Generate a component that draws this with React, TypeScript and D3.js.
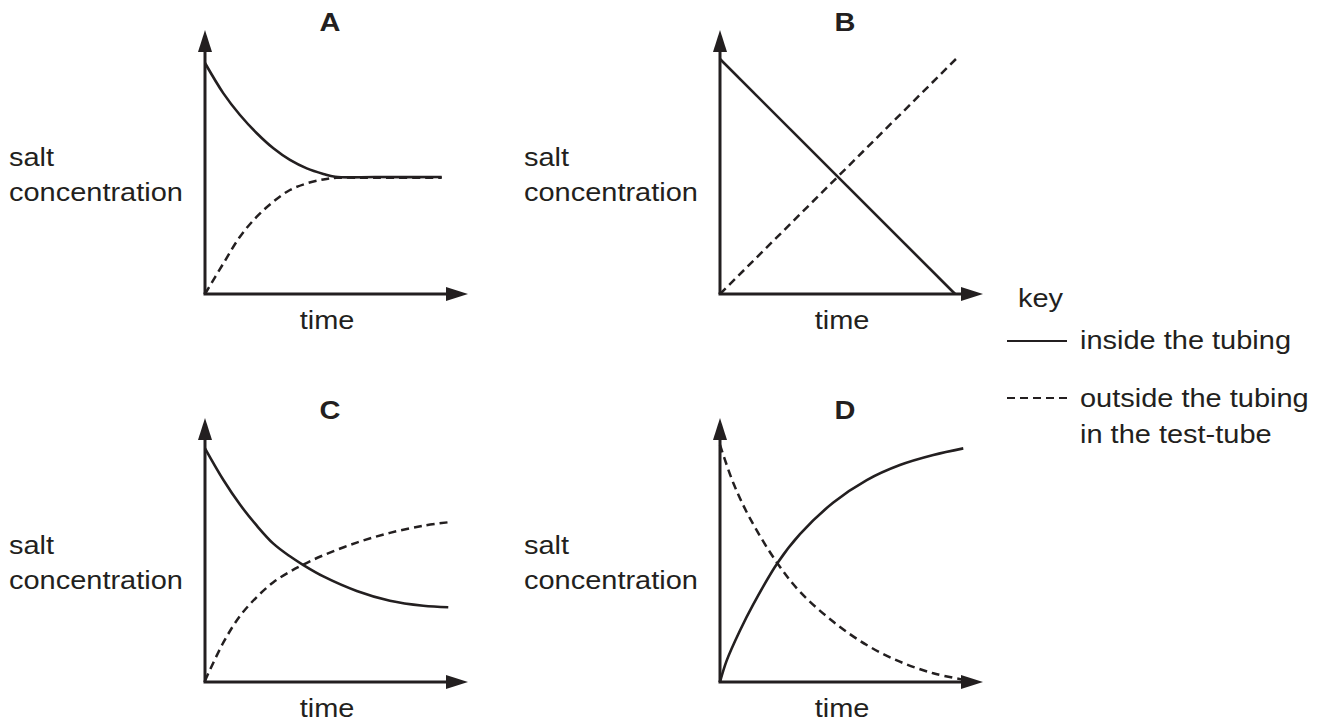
import React from "react";
import * as d3 from "d3";

// ---- data (time, salt concentration) in arbitrary units 0..10 ----
const panelLabels = ["A", "B", "C", "D"];

const aInside: [number, number][] = [
  [0, 8.75], [0.7, 7.6], [1.33, 6.78], [1.97, 6.09], [2.6, 5.52], [3.23, 5.08],
  [3.87, 4.76], [4.5, 4.55], [4.95, 4.44], [6.5, 4.43], [9.0, 4.43],
];
const aOutside: [number, number][] = [
  [0, 0], [0.7, 1.16], [1.33, 2.17], [1.97, 2.93], [2.6, 3.5], [3.23, 3.94],
  [3.87, 4.19], [4.5, 4.34], [5.0, 4.4], [6.5, 4.4], [9.0, 4.4],
];
const bInside: [number, number][] = [[0, 8.9], [8.94, 0]];
const bOutside: [number, number][] = [[0, 0], [9.01, 8.94]];
const cInside: [number, number][] = [
  [0, 8.85], [0.7, 7.65], [1.33, 6.72], [1.97, 5.92], [2.6, 5.24], [3.2, 4.78],
  [3.74, 4.43], [4.5, 4.0], [5.77, 3.45], [7.03, 3.08], [8.3, 2.89], [9.25, 2.83],
];
const cOutside: [number, number][] = [
  [0, 0.05], [0.7, 1.5], [1.33, 2.5], [1.97, 3.22], [2.6, 3.78], [3.2, 4.16],
  [3.74, 4.45], [4.5, 4.8], [5.77, 5.28], [7.03, 5.65], [8.3, 5.92], [9.25, 6.05],
];
const dInside: [number, number][] = [
  [0, 0], [0.25, 0.8], [0.76, 1.95], [1.27, 2.95], [2.18, 4.5], [3.04, 5.6],
  [4.31, 6.8], [5.58, 7.65], [6.84, 8.22], [8.11, 8.6], [9.25, 8.85],
];
const dOutside: [number, number][] = [
  [0, 8.98], [0.51, 7.53], [1.14, 6.2], [2.18, 4.5], [3.04, 3.42], [4.31, 2.28],
  [5.58, 1.4], [6.84, 0.77], [8.11, 0.33], [9.19, 0.1],
];

const insideSeries = [aInside, bInside, cInside, dInside];
const outsideSeries = [aOutside, bOutside, cOutside, dOutside];

const yLabelLines = ["salt", "concentration"];
const xLabel = "time";
const keyTitle = "key";
const keyInside = ["inside the tubing"];
const keyOutside = ["outside the tubing", "in the test-tube"];

// ---- layout ----
const origins = [
  { ox: 205, oy: 294 },
  { ox: 720, oy: 294 },
  { ox: 205, oy: 682 },
  { ox: 720, oy: 682 },
];
const INK = "#231f20";
const FONT = "'Liberation Sans', Arial, Helvetica, sans-serif";
const FS = 26;
const SX = 1.115;

function T({ x, y, children, anchor = "start", bold = false }: any) {
  return (
    <text
      transform={`translate(${x},${y}) scale(${SX},1)`}
      textAnchor={anchor}
      fontFamily={FONT}
      fontSize={FS}
      fontWeight={bold ? "bold" : "normal"}
      fill={INK}
    >
      {children}
    </text>
  );
}

function Panel({ idx }: { idx: number }) {
  const { ox, oy } = origins[idx];
  const x = d3.scaleLinear().domain([0, 10]).range([ox, ox + 263]);
  const y = d3.scaleLinear().domain([0, 10]).range([oy, oy - 264]);
  const line = d3
    .line<[number, number]>()
    .x((d) => x(d[0]))
    .y((d) => y(d[1]))
    .curve(d3.curveCatmullRom.alpha(0.5));
  const L = 22;
  const H = 7;
  const xt = x(10);
  const yt = y(10);
  return (
    <g>
      {/* axes */}
      <line x1={x(0)} y1={y(0)} x2={x(0)} y2={yt + L - 1} stroke={INK} strokeWidth={3} />
      <line x1={x(0) - 1.5} y1={y(0)} x2={xt - L + 1} y2={y(0)} stroke={INK} strokeWidth={3} />
      <polygon points={`${x(0)},${yt} ${x(0) - H},${yt + L} ${x(0) + H},${yt + L}`} fill={INK} />
      <polygon points={`${xt},${y(0)} ${xt - L},${y(0) - H} ${xt - L},${y(0) + H}`} fill={INK} />
      {/* curves */}
      <path d={line(insideSeries[idx]) || ""} fill="none" stroke={INK} strokeWidth={2.6} />
      <path
        d={line(outsideSeries[idx]) || ""}
        fill="none"
        stroke={INK}
        strokeWidth={2.5}
        strokeDasharray="8,5"
      />
      {/* labels */}
      <T x={ox + 125} y={oy - 263} anchor="middle" bold>
        {panelLabels[idx]}
      </T>
      {yLabelLines.map((s, i) => (
        <T key={s} x={ox - 196} y={oy - 128 + i * 35}>
          {s}
        </T>
      ))}
      <T x={ox + 122} y={oy + 35} anchor="middle">
        {xLabel}
      </T>
    </g>
  );
}

export default function App() {
  return (
    <svg
      width={1327}
      height={721}
      viewBox="0 0 1327 721"
      style={{ position: "absolute", left: 0, top: 0, background: "#fff" }}
    >
      <rect width={1327} height={721} fill="#fff" />
      {[0, 1, 2, 3].map((i) => (
        <Panel key={i} idx={i} />
      ))}
      {/* key */}
      <T x={1018} y={307}>{keyTitle}</T>
      <line x1={1007} y1={341} x2={1067} y2={341} stroke={INK} strokeWidth={2} />
      {keyInside.map((s, i) => (
        <T key={s} x={1080} y={349 + i * 36}>{s}</T>
      ))}
      <line x1={1007} y1={398} x2={1067} y2={398} stroke={INK} strokeWidth={2} strokeDasharray="8,5" />
      {keyOutside.map((s, i) => (
        <T key={s} x={1080} y={407 + i * 36}>{s}</T>
      ))}
    </svg>
  );
}
